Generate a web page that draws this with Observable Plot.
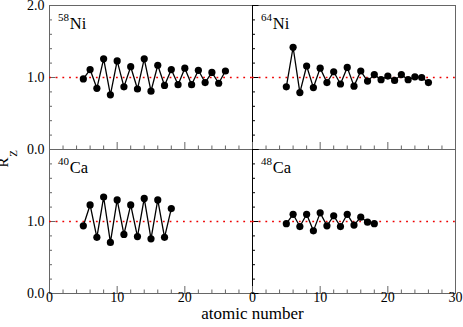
<!DOCTYPE html>
<html>
<head>
<meta charset="utf-8">
<script src="https://cdn.jsdelivr.net/npm/d3@7"></script>
<script src="https://cdn.jsdelivr.net/npm/@observablehq/plot@0.6"></script>
<style>
  html, body { margin: 0; padding: 0; background: #fff; }
  #chart { width: 463px; height: 327px; }
</style>
</head>
<body>
<div id="chart"></div>
<script>
// ---- data ----
const zNi58 = [5,6,7,8,9,10,11,12,13,14,15,16,17,18,19,20,21,22,23,24,25,26];
const rNi58 = [0.98,1.11,0.85,1.26,0.76,1.23,0.87,1.15,0.84,1.26,0.81,1.17,0.89,1.11,0.90,1.13,0.90,1.10,0.93,1.07,0.92,1.09];
const zNi64 = [5,6,7,8,9,10,11,12,13,14,15,16,17,18,19,20,21,22,23,24,25,26];
const rNi64 = [0.87,1.42,0.79,1.16,0.86,1.13,0.93,1.08,0.91,1.14,0.88,1.09,0.95,1.04,0.97,1.02,0.96,1.04,0.97,1.01,1.00,0.93];
const zCa40 = [5,6,7,8,9,10,11,12,13,14,15,16,17,18];
const rCa40 = [0.94,1.23,0.78,1.34,0.71,1.30,0.82,1.23,0.79,1.32,0.76,1.30,0.78,1.18];
const zCa48 = [5,6,7,8,9,10,11,12,13,14,15,16,17,18];
const rCa48 = [0.97,1.10,0.93,1.10,0.87,1.12,0.94,1.08,0.93,1.10,0.95,1.06,0.99,0.97];

const massNumbers = ["58", "64", "40", "48"];
const elements = ["Ni", "Ni", "Ca", "Ca"];
const panelCols = ["left", "right", "left", "right"];
const panelRows = ["top", "top", "bottom", "bottom"];

const xMajor = [0, 10, 20, 30];
const xMinor = [0,2,4,6,8,10,12,14,16,18,20,22,24,26,28,30];
const yMajor = [0, 1, 2];
const yMinor = [0,0.2,0.4,0.6,0.8,1,1.2,1.4,1.6,1.8,2];
const xTickLabelsLeft = [0, 10, 20];
const xTickLabelsRight = [0, 10, 20, 30];
const yTickLabelsTop = [2, 1, 0];
const yTickLabelsBottom = [1, 0];

// ---- build tables ----
const series = [[zNi58, rNi58], [zNi64, rNi64], [zCa40, rCa40], [zCa48, rCa48]];
const table = [];
series.forEach(([zs, rs], i) => {
  zs.forEach((z, j) => table.push({
    nucleus: massNumbers[i] + elements[i], col: panelCols[i], row: panelRows[i], z, r: rs[j]
  }));
});
const panels = massNumbers.map((m, i) => ({mass: m, el: elements[i], col: panelCols[i], row: panelRows[i]}));
const yTicks = [];
panels.forEach(p => {
  yMinor.forEach(v => yTicks.push({col: p.col, row: p.row, v, major: yMajor.includes(v)}));
});
const xTicks = [];
panels.forEach(p => {
  xMinor.forEach(v => xTicks.push({col: p.col, row: p.row, v, major: xMajor.includes(v)}));
});
const xLabels = [
  ...xTickLabelsLeft.map(v => ({v, col: "left", row: "bottom"})),
  ...xTickLabelsRight.map(v => ({v, col: "right", row: "bottom"}))
];
const yLabels = [
  ...yTickLabelsTop.map(v => ({v, col: "left", row: "top"})),
  ...yTickLabelsBottom.map(v => ({v, col: "left", row: "bottom"}))
];

const W = 463, H = 327, mL = 48, mR = 8, mT = 5, mB = 34;
const PW = (W - mL - mR) / 2, PH = (H - mT - mB) / 2;
const frameColor = "#666";
const serif = "'Liberation Serif', 'Times New Roman', serif";
const axisColor = d => d.col === "right" ? "black" : frameColor;

const chart = Plot.plot({
  width: W, height: H,
  marginLeft: mL, marginRight: mR, marginTop: mT, marginBottom: mB,
  style: {fontFamily: serif, background: "#fff", overflow: "visible"},
  x: {domain: [0, 30], axis: null},
  y: {domain: [0, 2], axis: null},
  fx: {domain: ["left", "right"], padding: 0, axis: null},
  fy: {domain: ["top", "bottom"], padding: 0, axis: null},
  marks: [
    Plot.frame({stroke: frameColor}),
    // left axis line of the right column
    Plot.ruleX(panels.filter(p => p.col === "right"), {fx: "col", fy: "row", x: () => 0, stroke: "black"}),
    // inward ticks: bottom and left
    Plot.tickX(xTicks, {fx: "col", fy: "row", x: "v", insetTop: d => 0, stroke: frameColor, filter: d => d.major, insetTop: PH - 7}),
    Plot.tickX(xTicks, {fx: "col", fy: "row", x: "v", stroke: frameColor, filter: d => !d.major, insetTop: PH - 3.5}),
    Plot.ruleY(yTicks, {fx: "col", fy: "row", y: "v", stroke: axisColor, filter: d => d.major, insetRight: PW - 7}),
    Plot.ruleY(yTicks, {fx: "col", fy: "row", y: "v", stroke: axisColor, filter: d => !d.major, insetRight: PW - 3.5}),
    // reference line
    Plot.ruleY([1], {y: d => d, stroke: "#e00", strokeWidth: 1.6, strokeDasharray: "1.8,4.9"}),
    // data
    Plot.line(table, {x: "z", y: "r", z: "nucleus", fx: "col", fy: "row", stroke: "black", strokeWidth: 1.3}),
    Plot.dot(table, {x: "z", y: "r", fx: "col", fy: "row", r: 3.6, fill: "black", stroke: "none"}),
    // panel labels
    Plot.text(panels, {fx: "col", fy: "row", text: "mass", frameAnchor: "top-left", dx: 8.5, dy: 15.7, lineAnchor: "bottom", textAnchor: "start", fontSize: 11, fontFamily: serif, fill: "black"}),
    Plot.text(panels, {fx: "col", fy: "row", text: "el", frameAnchor: "top-left", dx: 20.3, dy: 23.5, lineAnchor: "bottom", textAnchor: "start", fontSize: 16.5, fontFamily: serif, fill: "black"}),
    // tick labels
    Plot.text(yLabels, {fx: "col", fy: "row", y: "v", text: d => d.v.toFixed(1), frameAnchor: "left", dx: -5, textAnchor: "end", fontSize: 14, fontFamily: serif, fill: "black"}),
    Plot.text(xLabels, {fx: "col", fy: "row", x: "v", text: d => String(d.v), frameAnchor: "bottom", dy: 8.5, fontSize: 14, fontFamily: serif, fill: "black"}),
    // axis titles
    Plot.text([panels[2]], {fx: "col", fy: "row", text: () => "atomic number", frameAnchor: "bottom-right", dy: 25, textAnchor: "middle", fontSize: 17, fontFamily: serif, fill: "black"}),
    Plot.text([panels[0]], {fx: "col", fy: "row", text: () => "R", frameAnchor: "bottom-left", dx: -41.5, dy: 13, rotate: -90, textAnchor: "middle", fontSize: 15, fontFamily: serif, fill: "black"}),
    Plot.text([panels[0]], {fx: "col", fy: "row", text: () => "Z", frameAnchor: "bottom-left", dx: -32.5, dy: 4, rotate: -90, textAnchor: "middle", fontSize: 11, fontFamily: serif, fill: "black"})
  ]
});
document.getElementById("chart").appendChild(chart);
</script>
</body>
</html>
